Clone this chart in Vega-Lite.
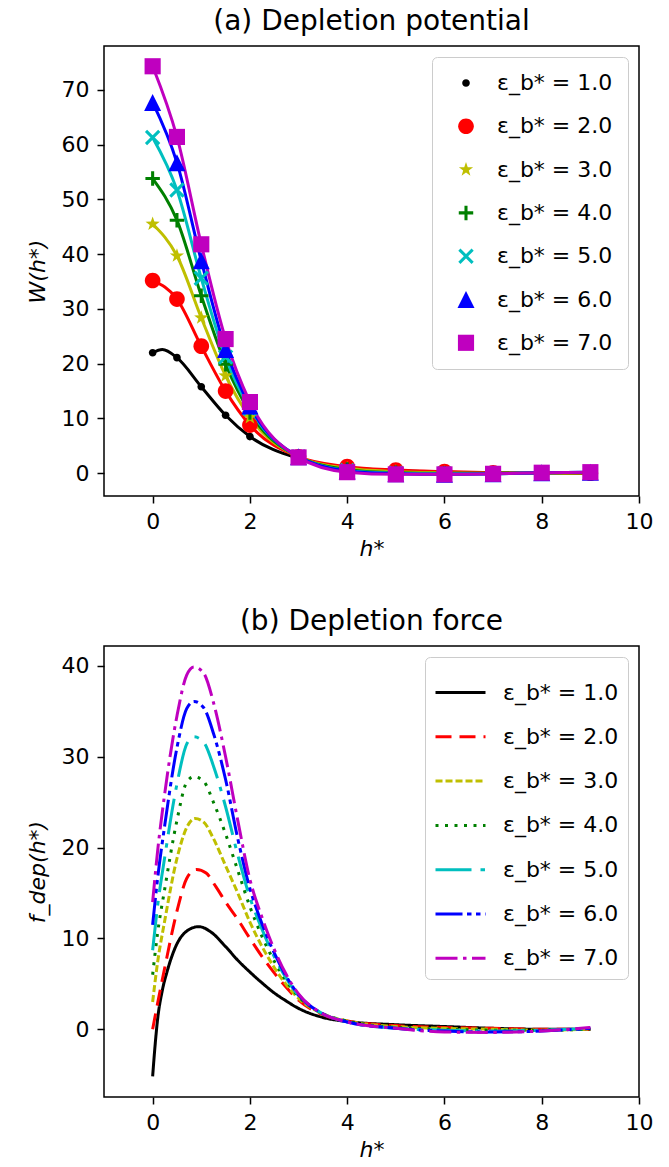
{
"$schema": "https://vega.github.io/schema/vega-lite/v6.json",
"padding": {"left": 25, "top": 7, "right": 5, "bottom": 5},
"background": "white",
"config": {
  "font": "DejaVu Sans",
  "view": {"stroke": "black", "strokeWidth": 1.5},
  "axis": {"grid": false, "domain": false, "tickColor": "black", "tickSize": 7, "tickWidth": 1.5, "labelFontSize": 22, "labelColor": "black", "labelFont": "DejaVu Sans", "labelPadding": 8, "titleFontSize": 22, "titleFontWeight": "normal", "titleColor": "black", "titleFont": "DejaVu Sans", "labelFlush": false},
  "title": {"fontSize": 28, "fontWeight": "normal", "font": "DejaVu Sans", "color": "black", "offset": 10},
  "legend": {"orient": "top-right", "offset": 11, "strokeColor": "#cccccc", "fillColor": "rgba(255,255,255,0.8)", "cornerRadius": 5, "labelFontSize": 22, "labelFont": "DejaVu Sans", "labelColor": "black", "labelLimit": 400}
},
"datasets": {
  "wpts": [
    {"eps":"ε_b* = 1.0","h":0,"W":22.0,"src":"marker"},{"eps":"ε_b* = 1.0","h":0.2,"W":22.6,"src":"curve"},{"eps":"ε_b* = 1.0","h":0.5,"W":21.1,"src":"marker"},{"eps":"ε_b* = 1.0","h":1,"W":15.8,"src":"marker"},{"eps":"ε_b* = 1.0","h":1.5,"W":10.6,"src":"marker"},{"eps":"ε_b* = 1.0","h":2,"W":6.7,"src":"marker"},{"eps":"ε_b* = 1.0","h":3,"W":2.7,"src":"marker"},{"eps":"ε_b* = 1.0","h":4,"W":1.0,"src":"marker"},{"eps":"ε_b* = 1.0","h":5,"W":0.5,"src":"marker"},{"eps":"ε_b* = 1.0","h":6,"W":0.2,"src":"marker"},{"eps":"ε_b* = 1.0","h":7,"W":0.1,"src":"marker"},{"eps":"ε_b* = 1.0","h":8,"W":0.0,"src":"marker"},{"eps":"ε_b* = 1.0","h":9,"W":0.0,"src":"marker"},
    {"eps":"ε_b* = 2.0","h":0,"W":35.2,"src":"marker"},{"eps":"ε_b* = 2.0","h":0.5,"W":31.8,"src":"marker"},{"eps":"ε_b* = 2.0","h":1,"W":23.2,"src":"marker"},{"eps":"ε_b* = 2.0","h":1.5,"W":15.0,"src":"marker"},{"eps":"ε_b* = 2.0","h":2,"W":8.8,"src":"marker"},{"eps":"ε_b* = 2.0","h":3,"W":3.0,"src":"marker"},{"eps":"ε_b* = 2.0","h":4,"W":1.2,"src":"marker"},{"eps":"ε_b* = 2.0","h":5,"W":0.6,"src":"marker"},{"eps":"ε_b* = 2.0","h":6,"W":0.3,"src":"marker"},{"eps":"ε_b* = 2.0","h":7,"W":0.1,"src":"marker"},{"eps":"ε_b* = 2.0","h":8,"W":0.0,"src":"marker"},{"eps":"ε_b* = 2.0","h":9,"W":0.0,"src":"marker"},
    {"eps":"ε_b* = 3.0","h":0,"W":45.5,"src":"marker"},{"eps":"ε_b* = 3.0","h":0.5,"W":39.7,"src":"marker"},{"eps":"ε_b* = 3.0","h":1,"W":28.4,"src":"marker"},{"eps":"ε_b* = 3.0","h":1.5,"W":17.8,"src":"marker"},{"eps":"ε_b* = 3.0","h":2,"W":10.2,"src":"marker"},{"eps":"ε_b* = 3.0","h":3,"W":3.0,"src":"marker"},{"eps":"ε_b* = 3.0","h":4,"W":0.9,"src":"marker"},{"eps":"ε_b* = 3.0","h":5,"W":0.3,"src":"marker"},{"eps":"ε_b* = 3.0","h":6,"W":0.1,"src":"marker"},{"eps":"ε_b* = 3.0","h":7,"W":0.0,"src":"marker"},{"eps":"ε_b* = 3.0","h":8,"W":0.0,"src":"marker"},{"eps":"ε_b* = 3.0","h":9,"W":0.1,"src":"marker"},
    {"eps":"ε_b* = 4.0","h":0,"W":53.8,"src":"marker"},{"eps":"ε_b* = 4.0","h":0.5,"W":46.2,"src":"marker"},{"eps":"ε_b* = 4.0","h":1,"W":32.4,"src":"marker"},{"eps":"ε_b* = 4.0","h":1.5,"W":19.9,"src":"marker"},{"eps":"ε_b* = 4.0","h":2,"W":11.1,"src":"marker"},{"eps":"ε_b* = 4.0","h":3,"W":3.0,"src":"marker"},{"eps":"ε_b* = 4.0","h":4,"W":0.7,"src":"marker"},{"eps":"ε_b* = 4.0","h":5,"W":0.1,"src":"marker"},{"eps":"ε_b* = 4.0","h":6,"W":0.0,"src":"marker"},{"eps":"ε_b* = 4.0","h":7,"W":0.0,"src":"marker"},{"eps":"ε_b* = 4.0","h":8,"W":0.1,"src":"marker"},{"eps":"ε_b* = 4.0","h":9,"W":0.1,"src":"marker"},
    {"eps":"ε_b* = 5.0","h":0,"W":61.3,"src":"marker"},{"eps":"ε_b* = 5.0","h":0.5,"W":51.7,"src":"marker"},{"eps":"ε_b* = 5.0","h":1,"W":35.6,"src":"marker"},{"eps":"ε_b* = 5.0","h":1.5,"W":21.2,"src":"marker"},{"eps":"ε_b* = 5.0","h":2,"W":11.8,"src":"marker"},{"eps":"ε_b* = 5.0","h":3,"W":3.0,"src":"marker"},{"eps":"ε_b* = 5.0","h":4,"W":0.5,"src":"marker"},{"eps":"ε_b* = 5.0","h":5,"W":0.0,"src":"marker"},{"eps":"ε_b* = 5.0","h":6,"W":-0.1,"src":"marker"},{"eps":"ε_b* = 5.0","h":7,"W":-0.1,"src":"marker"},{"eps":"ε_b* = 5.0","h":8,"W":0.1,"src":"marker"},{"eps":"ε_b* = 5.0","h":9,"W":0.2,"src":"marker"},
    {"eps":"ε_b* = 6.0","h":0,"W":67.7,"src":"marker"},{"eps":"ε_b* = 6.0","h":0.5,"W":56.7,"src":"marker"},{"eps":"ε_b* = 6.0","h":1,"W":38.8,"src":"marker"},{"eps":"ε_b* = 6.0","h":1.5,"W":22.6,"src":"marker"},{"eps":"ε_b* = 6.0","h":2,"W":12.3,"src":"marker"},{"eps":"ε_b* = 6.0","h":3,"W":3.0,"src":"marker"},{"eps":"ε_b* = 6.0","h":4,"W":0.4,"src":"marker"},{"eps":"ε_b* = 6.0","h":5,"W":-0.1,"src":"marker"},{"eps":"ε_b* = 6.0","h":6,"W":-0.2,"src":"marker"},{"eps":"ε_b* = 6.0","h":7,"W":-0.1,"src":"marker"},{"eps":"ε_b* = 6.0","h":8,"W":0.1,"src":"marker"},{"eps":"ε_b* = 6.0","h":9,"W":0.2,"src":"marker"},
    {"eps":"ε_b* = 7.0","h":0,"W":74.3,"src":"marker"},{"eps":"ε_b* = 7.0","h":0.5,"W":61.4,"src":"marker"},{"eps":"ε_b* = 7.0","h":1,"W":41.8,"src":"marker"},{"eps":"ε_b* = 7.0","h":1.5,"W":24.5,"src":"marker"},{"eps":"ε_b* = 7.0","h":2,"W":13.0,"src":"marker"},{"eps":"ε_b* = 7.0","h":3,"W":2.9,"src":"marker"},{"eps":"ε_b* = 7.0","h":4,"W":0.2,"src":"marker"},{"eps":"ε_b* = 7.0","h":5,"W":-0.2,"src":"marker"},{"eps":"ε_b* = 7.0","h":6,"W":-0.2,"src":"marker"},{"eps":"ε_b* = 7.0","h":7,"W":-0.1,"src":"marker"},{"eps":"ε_b* = 7.0","h":8,"W":0.1,"src":"marker"},{"eps":"ε_b* = 7.0","h":9,"W":0.2,"src":"marker"}
  ],
  "force": [
    {"eps":"ε_b* = 1.0","h":0,"f":-5.2},{"eps":"ε_b* = 1.0","h":0.05,"f":-1.8},{"eps":"ε_b* = 1.0","h":0.1,"f":1.0},{"eps":"ε_b* = 1.0","h":0.2,"f":4.3},{"eps":"ε_b* = 1.0","h":0.3,"f":6.4},{"eps":"ε_b* = 1.0","h":0.5,"f":9.4},{"eps":"ε_b* = 1.0","h":0.7,"f":10.8},{"eps":"ε_b* = 1.0","h":0.95,"f":11.3},{"eps":"ε_b* = 1.0","h":1.2,"f":10.7},{"eps":"ε_b* = 1.0","h":1.5,"f":9.1},{"eps":"ε_b* = 1.0","h":1.75,"f":7.6},{"eps":"ε_b* = 1.0","h":2,"f":6.3},{"eps":"ε_b* = 1.0","h":2.25,"f":5.1},{"eps":"ε_b* = 1.0","h":2.5,"f":4.0},{"eps":"ε_b* = 1.0","h":2.75,"f":3.1},{"eps":"ε_b* = 1.0","h":3,"f":2.3},{"eps":"ε_b* = 1.0","h":3.5,"f":1.3},{"eps":"ε_b* = 1.0","h":4,"f":0.85},{"eps":"ε_b* = 1.0","h":5,"f":0.5},{"eps":"ε_b* = 1.0","h":6,"f":0.3},{"eps":"ε_b* = 1.0","h":7,"f":0.1},{"eps":"ε_b* = 1.0","h":8,"f":0.0},{"eps":"ε_b* = 1.0","h":9,"f":0.0},
    {"eps":"ε_b* = 2.0","h":0,"f":0.0},{"eps":"ε_b* = 2.0","h":0.1,"f":2.8},{"eps":"ε_b* = 2.0","h":0.25,"f":6.8},{"eps":"ε_b* = 2.0","h":0.5,"f":13.0},{"eps":"ε_b* = 2.0","h":0.7,"f":16.6},{"eps":"ε_b* = 2.0","h":0.9,"f":17.6},{"eps":"ε_b* = 2.0","h":1.1,"f":17.2},{"eps":"ε_b* = 2.0","h":1.3,"f":15.7},{"eps":"ε_b* = 2.0","h":1.5,"f":14.0},{"eps":"ε_b* = 2.0","h":1.75,"f":12.1},{"eps":"ε_b* = 2.0","h":2,"f":10.0},{"eps":"ε_b* = 2.0","h":2.25,"f":8.0},{"eps":"ε_b* = 2.0","h":2.5,"f":6.2},{"eps":"ε_b* = 2.0","h":2.75,"f":4.6},{"eps":"ε_b* = 2.0","h":3,"f":3.2},{"eps":"ε_b* = 2.0","h":3.5,"f":1.6},{"eps":"ε_b* = 2.0","h":4,"f":0.9},{"eps":"ε_b* = 2.0","h":5,"f":0.4},{"eps":"ε_b* = 2.0","h":6,"f":0.2},{"eps":"ε_b* = 2.0","h":7,"f":0.1},{"eps":"ε_b* = 2.0","h":8,"f":0.0},{"eps":"ε_b* = 2.0","h":9,"f":0.0},
    {"eps":"ε_b* = 3.0","h":0,"f":3.0},{"eps":"ε_b* = 3.0","h":0.1,"f":7.3},{"eps":"ε_b* = 3.0","h":0.25,"f":12.0},{"eps":"ε_b* = 3.0","h":0.5,"f":18.8},{"eps":"ε_b* = 3.0","h":0.7,"f":22.2},{"eps":"ε_b* = 3.0","h":0.87,"f":23.2},{"eps":"ε_b* = 3.0","h":1.05,"f":22.8},{"eps":"ε_b* = 3.0","h":1.25,"f":21.0},{"eps":"ε_b* = 3.0","h":1.5,"f":18.0},{"eps":"ε_b* = 3.0","h":1.75,"f":15.0},{"eps":"ε_b* = 3.0","h":2,"f":11.8},{"eps":"ε_b* = 3.0","h":2.25,"f":9.1},{"eps":"ε_b* = 3.0","h":2.5,"f":6.8},{"eps":"ε_b* = 3.0","h":2.75,"f":4.9},{"eps":"ε_b* = 3.0","h":3,"f":3.4},{"eps":"ε_b* = 3.0","h":3.5,"f":1.7},{"eps":"ε_b* = 3.0","h":4,"f":0.9},{"eps":"ε_b* = 3.0","h":5,"f":0.3},{"eps":"ε_b* = 3.0","h":6,"f":0.1},{"eps":"ε_b* = 3.0","h":7,"f":0.0},{"eps":"ε_b* = 3.0","h":8,"f":-0.1},{"eps":"ε_b* = 3.0","h":9,"f":0.0},
    {"eps":"ε_b* = 4.0","h":0,"f":6.0},{"eps":"ε_b* = 4.0","h":0.1,"f":10.5},{"eps":"ε_b* = 4.0","h":0.25,"f":15.5},{"eps":"ε_b* = 4.0","h":0.5,"f":23.0},{"eps":"ε_b* = 4.0","h":0.7,"f":27.2},{"eps":"ε_b* = 4.0","h":0.85,"f":27.8},{"eps":"ε_b* = 4.0","h":1.05,"f":27.3},{"eps":"ε_b* = 4.0","h":1.25,"f":25.0},{"eps":"ε_b* = 4.0","h":1.5,"f":21.5},{"eps":"ε_b* = 4.0","h":1.75,"f":17.5},{"eps":"ε_b* = 4.0","h":2,"f":13.5},{"eps":"ε_b* = 4.0","h":2.25,"f":10.2},{"eps":"ε_b* = 4.0","h":2.5,"f":7.5},{"eps":"ε_b* = 4.0","h":2.75,"f":5.3},{"eps":"ε_b* = 4.0","h":3,"f":3.6},{"eps":"ε_b* = 4.0","h":3.5,"f":1.7},{"eps":"ε_b* = 4.0","h":4,"f":0.9},{"eps":"ε_b* = 4.0","h":5,"f":0.2},{"eps":"ε_b* = 4.0","h":6,"f":0.0},{"eps":"ε_b* = 4.0","h":7,"f":-0.1},{"eps":"ε_b* = 4.0","h":8,"f":-0.1},{"eps":"ε_b* = 4.0","h":9,"f":0.0},
    {"eps":"ε_b* = 5.0","h":0,"f":8.7},{"eps":"ε_b* = 5.0","h":0.1,"f":13.5},{"eps":"ε_b* = 5.0","h":0.25,"f":19.0},{"eps":"ε_b* = 5.0","h":0.5,"f":27.0},{"eps":"ε_b* = 5.0","h":0.7,"f":31.4},{"eps":"ε_b* = 5.0","h":0.85,"f":32.2},{"eps":"ε_b* = 5.0","h":1.05,"f":31.6},{"eps":"ε_b* = 5.0","h":1.25,"f":29.0},{"eps":"ε_b* = 5.0","h":1.5,"f":24.5},{"eps":"ε_b* = 5.0","h":1.75,"f":19.2},{"eps":"ε_b* = 5.0","h":2,"f":14.5},{"eps":"ε_b* = 5.0","h":2.25,"f":11.0},{"eps":"ε_b* = 5.0","h":2.5,"f":8.0},{"eps":"ε_b* = 5.0","h":2.75,"f":5.6},{"eps":"ε_b* = 5.0","h":3,"f":3.7},{"eps":"ε_b* = 5.0","h":3.5,"f":1.7},{"eps":"ε_b* = 5.0","h":4,"f":0.8},{"eps":"ε_b* = 5.0","h":5,"f":0.1},{"eps":"ε_b* = 5.0","h":6,"f":-0.1},{"eps":"ε_b* = 5.0","h":7,"f":-0.2},{"eps":"ε_b* = 5.0","h":8,"f":-0.1},{"eps":"ε_b* = 5.0","h":9,"f":0.1},
    {"eps":"ε_b* = 6.0","h":0,"f":11.5},{"eps":"ε_b* = 6.0","h":0.1,"f":16.5},{"eps":"ε_b* = 6.0","h":0.25,"f":22.5},{"eps":"ε_b* = 6.0","h":0.5,"f":31.0},{"eps":"ε_b* = 6.0","h":0.7,"f":35.3},{"eps":"ε_b* = 6.0","h":0.85,"f":36.1},{"eps":"ε_b* = 6.0","h":1.05,"f":35.4},{"eps":"ε_b* = 6.0","h":1.25,"f":32.6},{"eps":"ε_b* = 6.0","h":1.5,"f":27.5},{"eps":"ε_b* = 6.0","h":1.75,"f":21.0},{"eps":"ε_b* = 6.0","h":2,"f":15.5},{"eps":"ε_b* = 6.0","h":2.25,"f":11.6},{"eps":"ε_b* = 6.0","h":2.5,"f":8.4},{"eps":"ε_b* = 6.0","h":2.75,"f":5.8},{"eps":"ε_b* = 6.0","h":3,"f":3.8},{"eps":"ε_b* = 6.0","h":3.5,"f":1.7},{"eps":"ε_b* = 6.0","h":4,"f":0.8},{"eps":"ε_b* = 6.0","h":5,"f":0.1},{"eps":"ε_b* = 6.0","h":6,"f":-0.2},{"eps":"ε_b* = 6.0","h":7,"f":-0.3},{"eps":"ε_b* = 6.0","h":8,"f":-0.2},{"eps":"ε_b* = 6.0","h":9,"f":0.1},
    {"eps":"ε_b* = 7.0","h":0,"f":14.0},{"eps":"ε_b* = 7.0","h":0.1,"f":19.5},{"eps":"ε_b* = 7.0","h":0.25,"f":26.0},{"eps":"ε_b* = 7.0","h":0.5,"f":34.5},{"eps":"ε_b* = 7.0","h":0.7,"f":39.0},{"eps":"ε_b* = 7.0","h":0.85,"f":39.9},{"eps":"ε_b* = 7.0","h":1.05,"f":39.2},{"eps":"ε_b* = 7.0","h":1.25,"f":36.0},{"eps":"ε_b* = 7.0","h":1.5,"f":30.0},{"eps":"ε_b* = 7.0","h":1.75,"f":23.0},{"eps":"ε_b* = 7.0","h":2,"f":16.5},{"eps":"ε_b* = 7.0","h":2.25,"f":12.3},{"eps":"ε_b* = 7.0","h":2.5,"f":8.8},{"eps":"ε_b* = 7.0","h":2.75,"f":6.0},{"eps":"ε_b* = 7.0","h":3,"f":3.9},{"eps":"ε_b* = 7.0","h":3.5,"f":1.7},{"eps":"ε_b* = 7.0","h":4,"f":0.8},{"eps":"ε_b* = 7.0","h":5,"f":0.1},{"eps":"ε_b* = 7.0","h":6,"f":-0.3},{"eps":"ε_b* = 7.0","h":7,"f":-0.35},{"eps":"ε_b* = 7.0","h":8,"f":-0.2},{"eps":"ε_b* = 7.0","h":9,"f":0.2}
  ]
},
"spacing": 150,
"bounds": "flush",
"resolve": {"scale": {"color": "independent", "shape": "independent", "strokeDash": "independent", "stroke": "independent", "x": "independent", "y": "independent"}, "legend": {"color": "independent", "shape": "independent", "strokeDash": "independent"}},
"vconcat": [
  {
    "width": 535, "height": 450,
    "title": {"text": "(a) Depletion potential"},
    "data": {"name": "wpts"},
    "layer": [
      {
        "mark": {"type": "line", "interpolate": "monotone", "strokeWidth": 3},
        "encoding": {
          "x": {"field": "h", "type": "quantitative", "scale": {"domain": [-1, 10], "nice": false, "zero": false}, "axis": {"values": [0, 2, 4, 6, 8, 10], "title": "h*", "titleFontStyle": "italic", "titlePadding": 6}},
          "y": {"field": "W", "type": "quantitative", "scale": {"domain": [-4.15, 78], "nice": false, "zero": false}, "axis": {"values": [0, 10, 20, 30, 40, 50, 60, 70], "title": "W(h*)", "titleFontStyle": "italic", "titlePadding": 12}},
          "stroke": {"field": "eps", "type": "nominal", "scale": {"range": ["#000000", "#ff0000", "#bfbf00", "#008000", "#00bfbf", "#0000ff", "#bf00bf"]}, "legend": null}
        }
      },
      {
        "transform": [{"filter": "datum.src === 'marker'"}],
        "mark": {"type": "point", "filled": true, "opacity": 1, "size": 289},
        "encoding": {
          "x": {"field": "h", "type": "quantitative"},
          "y": {"field": "W", "type": "quantitative"},
          "color": {"field": "eps", "type": "nominal", "scale": {"range": ["#000000", "#ff0000", "#bfbf00", "#008000", "#00bfbf", "#0000ff", "#bf00bf"]}, "legend": {"title": null, "symbolSize": 289, "padding": 15, "rowPadding": 21.3, "labelOffset": 20, "symbolOffset": 8}},
          "shape": {"field": "eps", "type": "nominal", "scale": {"range": [
            "M-0.45,0A0.45,0.45 0 1,1 0.45,0A0.45,0.45 0 1,1 -0.45,0Z",
            "M-0.92,0A0.92,0.92 0 1,1 0.92,0A0.92,0.92 0 1,1 -0.92,0Z",
            "M0,-0.88L0.207,-0.285L0.837,-0.272L0.334,0.109L0.517,0.712L0,0.352L-0.517,0.712L-0.334,0.109L-0.837,-0.272L-0.207,-0.285Z",
            "M-0.85,-0.18L-0.18,-0.18L-0.18,-0.85L0.18,-0.85L0.18,-0.18L0.85,-0.18L0.85,0.18L0.18,0.18L0.18,0.85L-0.18,0.85L-0.18,0.18L-0.85,0.18Z",
            "M-0.653,-0.907L0.907,0.653L0.653,0.907L-0.907,-0.653ZM-0.907,0.653L0.653,-0.907L0.907,-0.653L-0.653,0.907Z",
            "M0,-1L1,1L-1,1Z",
            "M-0.95,-0.95L0.95,-0.95L0.95,0.95L-0.95,0.95Z"]}, "legend": {"title": null, "symbolSize": 289, "padding": 15, "rowPadding": 21.3, "labelOffset": 20, "symbolOffset": 8}}
        }
      }
    ]
  },
  {
    "width": 535, "height": 451,
    "title": {"text": "(b) Depletion force"},
    "data": {"name": "force"},
    "mark": {"type": "line", "interpolate": "monotone", "strokeWidth": 3},
    "encoding": {
      "x": {"field": "h", "type": "quantitative", "scale": {"domain": [-1, 10], "nice": false, "zero": false}, "axis": {"values": [0, 2, 4, 6, 8, 10], "title": "h*", "titleFontStyle": "italic", "titlePadding": 6}},
      "y": {"field": "f", "type": "quantitative", "scale": {"domain": [-7.46, 42.2], "nice": false, "zero": false}, "axis": {"values": [0, 10, 20, 30, 40], "title": "f_dep(h*)", "titleFontStyle": "italic", "titlePadding": 12}},
      "color": {"field": "eps", "type": "nominal", "scale": {"range": ["#000000", "#ff0000", "#bfbf00", "#008000", "#00bfbf", "#0000ff", "#bf00bf"]}, "legend": {"title": null, "symbolType": "stroke", "symbolSize": 2500, "symbolStrokeWidth": 3, "padding": 9, "rowPadding": 6.3, "labelOffset": 16}},
      "strokeDash": {"field": "eps", "type": "nominal", "scale": {"range": [[1, 0], [16, 8], [7, 3], [3, 6.5], [36, 9, 4.5, 9], [27, 4.5, 4.5, 4.5, 4.5, 4.5], [22, 5.5, 3.5, 5.5]]}, "legend": {"title": null, "symbolType": "stroke", "symbolSize": 2500, "symbolStrokeWidth": 3, "padding": 9, "rowPadding": 6.3, "labelOffset": 16}}
    }
  }
]
}
